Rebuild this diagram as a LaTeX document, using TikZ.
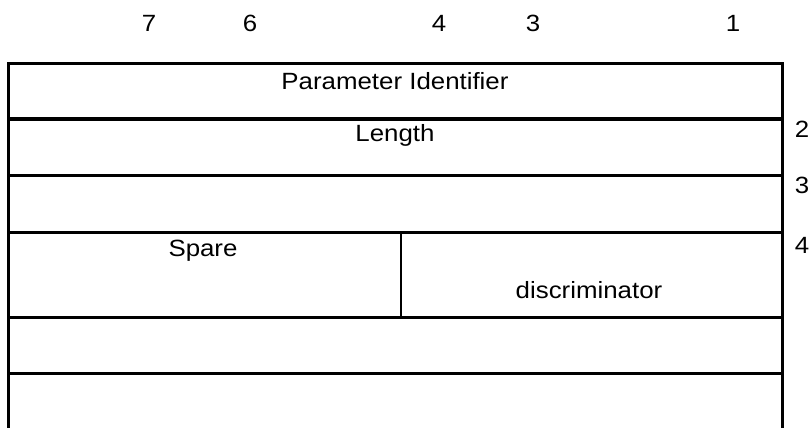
\documentclass[tikz,border=0pt]{standalone}
\usepackage{fontspec}
\setmainfont[FakeStretch=1.1]{Liberation Sans}
\usepackage{tikz}
\usetikzlibrary{positioning}

\begin{document}
\begin{tikzpicture}[x=1pt,y=-1pt,
  lbl/.style={anchor=base,inner sep=0pt,font=\fontsize{23.5}{28}\selectfont},
  rule/.style={line width=3pt}]
  \useasboundingbox (0,0) rectangle (812,428);
  % bit numbers
  \foreach \b/\x in {7/149,6/250,4/439,3/533,1/733}
    \node[lbl] (bit\b) at (\x,32) {\b};
  % frame, open at the bottom
  \draw[rule] (8.5,432) -- (8.5,64) -- (782,64) -- (782,432);
  \foreach \y in {119,175,232,317,373}
    \draw[rule] (8.5,\y) -- (782,\y);
  \draw[line width=2.2pt] (401,232) -- (401,317);
  % fields
  \node[lbl] (pid) at (395,89) {Parameter Identifier};
  \node[lbl] (len) at (395,142) {Length};
  \node[lbl] (spare) at (203,256) {Spare};
  \node[lbl] (disc) at (589,298) {discriminator};
  % octet numbers
  \foreach \o/\y in {2/138,3/193,4/253}
    \node[lbl] (oct\o) at (802,\y) {\o};
\end{tikzpicture}
\end{document}
